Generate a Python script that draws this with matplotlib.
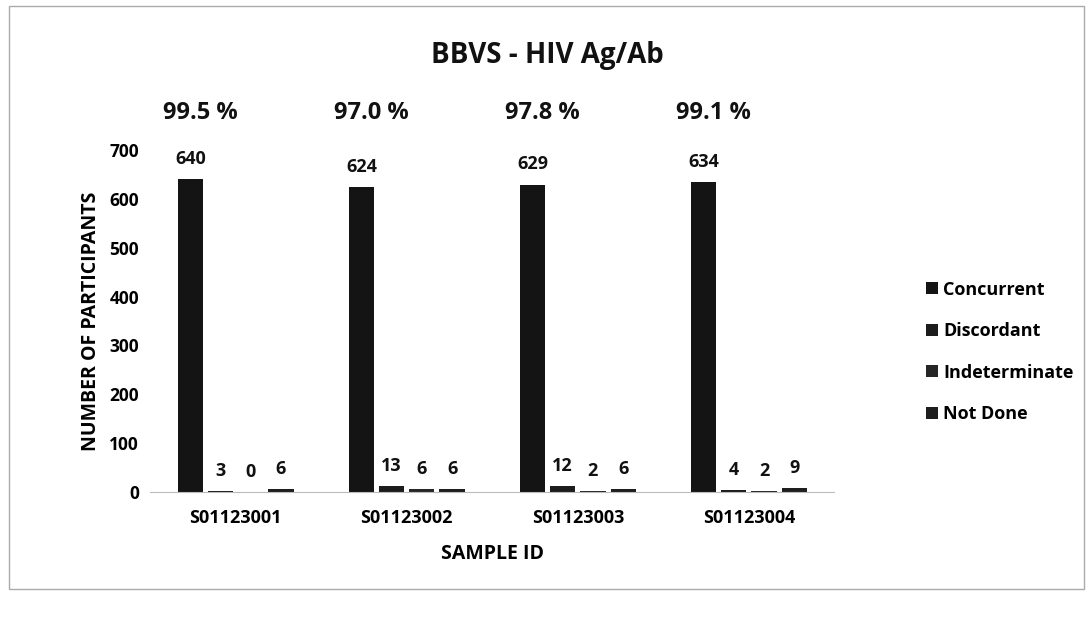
import matplotlib.pyplot as plt
import numpy as np
from matplotlib.patches import Rectangle

plt.rcParams['font.family'] = ['Open Sans', 'DejaVu Sans']

samples = ['S01123001', 'S01123002', 'S01123003', 'S01123004']
series = ['Concurrent', 'Discordant', 'Indeterminate', 'Not Done']
concurrent = [640, 624, 629, 634]
discordant = [3, 13, 12, 4]
indeterminate = [0, 6, 2, 2]
not_done = [6, 6, 6, 9]
percent = ['99.5 %', '97.0 %', '97.8 %', '99.1 %']

fig = plt.figure(figsize=(10.88, 6.27), dpi=100)
ax = fig.add_axes([0.138, 0.215, 0.629, 0.546])

# border like the scanned chart frame
fig.patches.append(Rectangle((0.008, 0.06), 0.988, 0.93, transform=fig.transFigure,
                             fill=False, edgecolor='#aaaaaa', linewidth=1))

x = np.arange(len(samples))
step = 30 / 170
width = 25 / 170
data = [concurrent, discordant, indeterminate, not_done]
colors = ['#141414', '#1c1c1c', '#262626', '#1e1e1e']

for i, (name, vals) in enumerate(zip(series, data)):
    bars = ax.bar(x + (i - 1.5) * step, vals, width, color=colors[i], label=name)
    for b, v in zip(bars, vals):
        ax.annotate(str(v), (b.get_x() + b.get_width() / 2, v), xytext=(0, 8),
                    textcoords='offset points', ha='center', va='bottom',
                    fontsize=13, fontweight='bold', color='#111111')

# agreement percentages above each group
for xi, p in zip(x, percent):
    ax.text(xi - 1.5 * step + 0.06, 775, p, ha='center', va='center',
            fontsize=17, fontweight='bold', color='#111111', clip_on=False)

ax.set_xlim(-0.5, 3.5)
ax.set_ylim(0, 700)
ax.set_yticks(range(0, 701, 100))
ax.set_xticks(x)
ax.set_xticklabels(samples, fontsize=13, fontweight='bold')
for lab in ax.get_yticklabels():
    lab.set_fontweight('bold')
    lab.set_fontsize(12.5)
ax.tick_params(length=0, pad=8)
ax.tick_params(axis='x', pad=12)

for s in ['top', 'right', 'left']:
    ax.spines[s].set_visible(False)
ax.spines['bottom'].set_color('#bbbbbb')

ax.set_ylabel('NUMBER OF PARTICIPANTS', fontsize=14, fontweight='bold', labelpad=6)
ax.set_xlabel('SAMPLE ID', fontsize=14, fontweight='bold', labelpad=12)
fig.text(0.503, 0.912, 'BBVS - HIV Ag/Ab', ha='center', va='center',
         fontsize=20, fontweight='bold', color='#111111')

leg = ax.legend(loc='center left', bbox_to_anchor=(1.11, 0.41), frameon=False,
                handlelength=0.65, handleheight=0.65, handletextpad=0.3,
                labelspacing=1.3, prop={'weight': 'bold', 'size': 13})

fig.savefig('out.png', dpi=100)
